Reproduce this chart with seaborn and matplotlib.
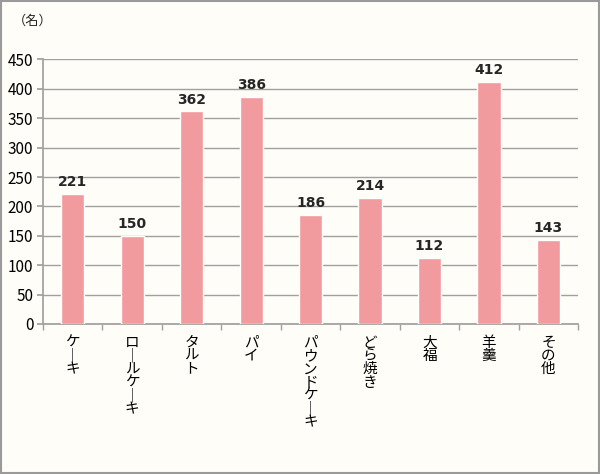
import matplotlib
matplotlib.use("Agg")
import matplotlib.pyplot as plt
import matplotlib.transforms as mtransforms
import seaborn as sns
import pandas as pd
from matplotlib.patches import Rectangle

categories = ["ケーキ", "ロールケーキ", "タルト", "パイ", "パウンドケーキ", "どら焼き", "大福", "羊羹", "その他"]
values = [221, 150, 362, 386, 186, 214, 112, 412, 143]
yticks = [0, 50, 100, 150, 200, 250, 300, 350, 400, 450]
unit_label = "（名）"

sns.set_theme(style="white")
plt.rcParams['font.family'] = ['Noto Sans CJK JP', 'DejaVu Sans']

bg = "#FFFDF7"
bar_color = "#F29B9F"

df = pd.DataFrame({"cat": categories, "val": values})

fig = plt.figure(figsize=(6.0, 4.74), dpi=100, facecolor=bg)
ax = fig.add_axes([0.0717, 0.3165, 0.892, 0.558])
ax.set_facecolor(bg)

sns.barplot(data=df, x="cat", y="val", color=bar_color, width=0.39,
            saturation=1, ax=ax, zorder=3)

ax.set_ylim(0, 450)
ax.set_yticks(yticks)
ax.set_xlim(-0.5, len(categories) - 0.5)
ax.yaxis.grid(True, color="#A0A0A0", linewidth=1, zorder=0)
ax.xaxis.grid(False)
for s in ["top", "right"]:
    ax.spines[s].set_visible(False)
ax.spines["left"].set_color("#A0A0A0")
ax.spines["bottom"].set_color("#A0A0A0")
ax.set_xlabel("")
ax.set_ylabel("")

ax.tick_params(axis="y", labelsize=11, colors="black", length=4, color="#A0A0A0", pad=3, direction="out", left=True)

ax.set_xticks([i - 0.5 for i in range(len(categories) + 1)], minor=True)
ax.set_xticks(range(len(categories)))
ax.set_xticklabels([""] * len(categories))
ax.tick_params(axis="x", which="major", length=0)
ax.tick_params(axis="x", which="minor", length=4, color="#A0A0A0", bottom=True, direction="out")

# vertical (tategaki) category labels, one character per row
base = ax.get_xaxis_transform()
for i, cat in enumerate(categories):
    for j, ch in enumerate(cat):
        dy = -(13.4 + 9.6 * j) / 72
        off = mtransforms.ScaledTranslation(0, dy, fig.dpi_scale_trans)
        glyph = "｜" if ch == "ー" else ch
        ax.text(i, 0, glyph, ha="center", va="center", fontsize=10.5,
                color="black", transform=base + off)

for i, v in enumerate(values):
    ax.text(i, v + 8, str(v), ha="center", va="bottom", fontsize=10, fontweight="bold",
            family=['DejaVu Sans'])

fig.text(0.022, 0.955, unit_label, fontsize=9.5, ha="left", va="center")

fig.patches.append(Rectangle((0.001, 0.002), 0.997, 0.995, transform=fig.transFigure,
                             fill=False, edgecolor="#9A9A9A", linewidth=1.5))

fig.savefig("out.png", dpi=100, facecolor=bg)
